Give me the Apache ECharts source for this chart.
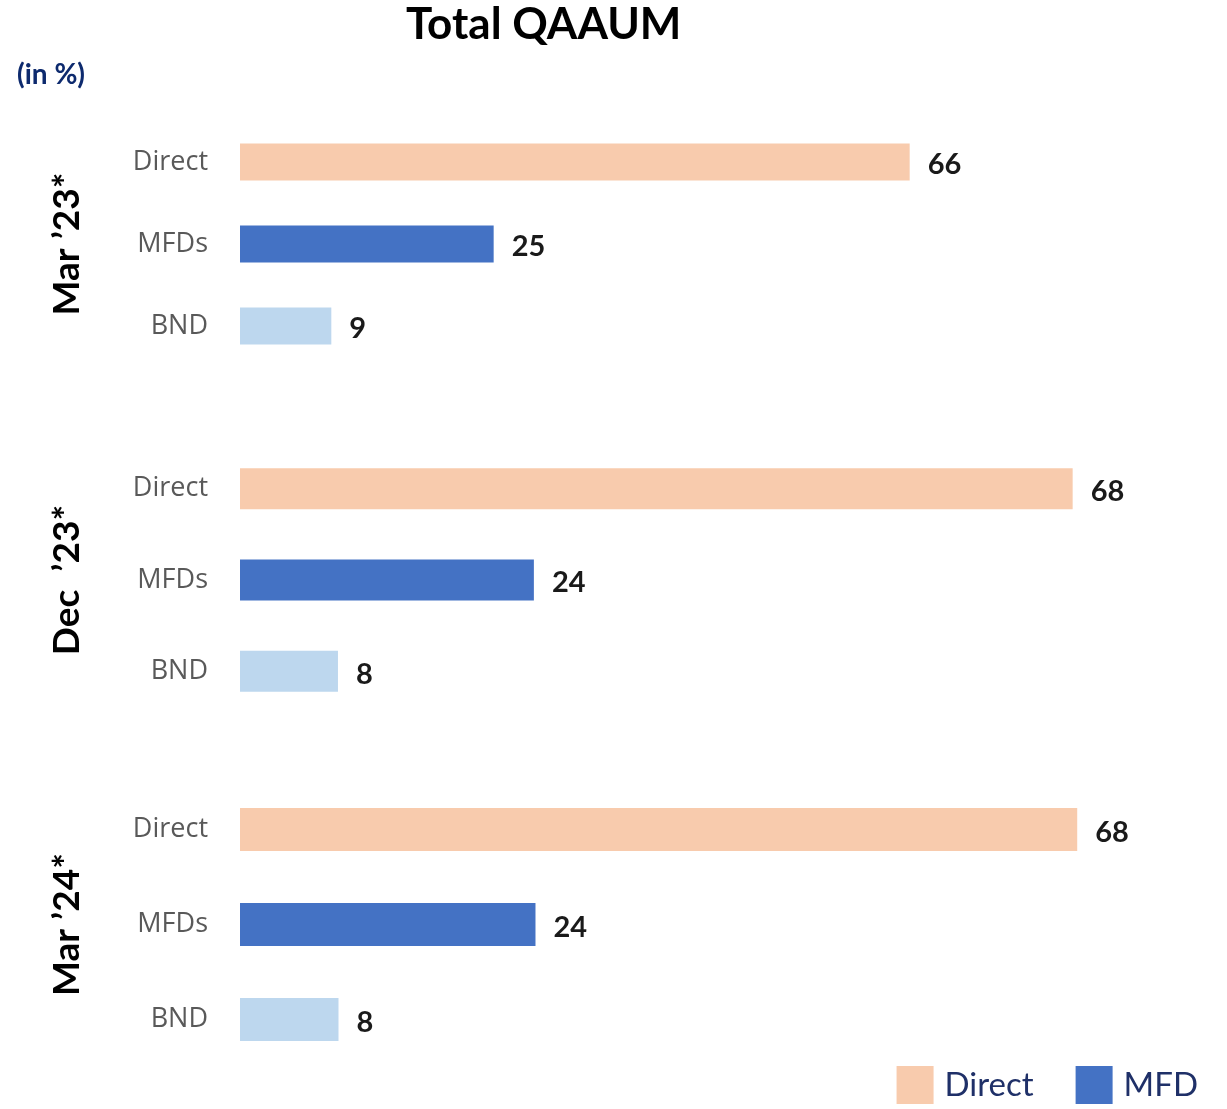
<!DOCTYPE html>
<html>
<head>
<meta charset="utf-8">
<script src="https://cdn.jsdelivr.net/npm/echarts@6/dist/echarts.min.js"></script>
<style>
  html, body { margin: 0; padding: 0; background: #fff; }
  #qaaum-chart { width: 1227px; height: 1109px; }
</style>
</head>
<body>
<div id="qaaum-chart"></div>
<script>
// periods shown as the three panels, top to bottom
const periods = ["Mar \u201923*", "Dec  \u201923*", "Mar \u201924*"];
const channels = ['Direct', 'MFDs', 'BND'];
const directVals = [66, 68, 68];
const mfdVals = [25, 24, 24];
const bndVals = [9, 8, 8];
// each panel has its own value axis, like the original slide
const panelMax = [88.7, 73.5, 73.1];

const colors = { Direct: '#F8CBAD', MFD: '#4472C4', BND: '#BDD7EE' };

// panel layout (px)
const panels = [
  { top: 121, height: 246, bar: 37 },
  { top: 443, height: 274, bar: 41 },
  { top: 782, height: 285, bar: 43 }
];

const grid = [], xAxis = [], yAxis = [], series = [];

panels.forEach((p, i) => {
  grid.push({ left: 240, width: 900, top: p.top, height: p.height });
  xAxis.push({ type: 'value', gridIndex: i, min: 0, max: panelMax[i], show: false });
  yAxis.push({
    type: 'category', gridIndex: i, inverse: true, data: channels,
    axisLine: { show: false }, axisTick: { show: false },
    axisLabel: { margin: 32, fontSize: 27, color: '#595959', fontFamily: 'Open Sans' },
    name: periods[i], nameLocation: 'middle', nameRotate: 90, nameGap: 154,
    nameTextStyle: { fontSize: 37, fontWeight: 'bold', color: '#000', fontFamily: 'Lato' }
  });
  const rows = [
    ['Direct', [directVals[i], '-', '-'], colors.Direct],
    ['MFD', ['-', mfdVals[i], '-'], colors.MFD],
    ['BND', ['-', '-', bndVals[i]], colors.BND]
  ];
  rows.forEach(([name, data, color]) => {
    series.push({
      type: 'bar', name, xAxisIndex: i, yAxisIndex: i, stack: 'p' + i,
      barWidth: p.bar, data, itemStyle: { color },
      label: {
        show: true, position: 'right', distance: 18, offset: [0, 3],
        fontSize: 29, fontWeight: 'bold', color: '#1a1a1a', fontFamily: 'Lato'
      },
      silent: true
    });
  });
});

const option = {
  animation: false,
  title: [
    { text: 'Total QAAUM', left: 401, top: -2,
      textStyle: { fontSize: 44, fontWeight: 'bold', color: '#000', fontFamily: 'Lato' } },
    { text: '(in %)', left: 12, top: 56,
      textStyle: { fontSize: 28, fontWeight: 'bold', color: '#0D2A6E', fontFamily: 'Lato' } }
  ],
  legend: {
    data: ['Direct', 'MFD'], right: 24, top: 1061, icon: 'rect',
    itemWidth: 37, itemHeight: 38, itemGap: 42,
    textStyle: { fontSize: 33, color: '#1F3068', fontFamily: 'Lato', padding: [0, 0, 0, 6] },
    selectedMode: false
  },
  grid, xAxis, yAxis, series
};

const myChart = echarts.init(document.getElementById('qaaum-chart'));
myChart.setOption(option);
</script>
</body>
</html>
